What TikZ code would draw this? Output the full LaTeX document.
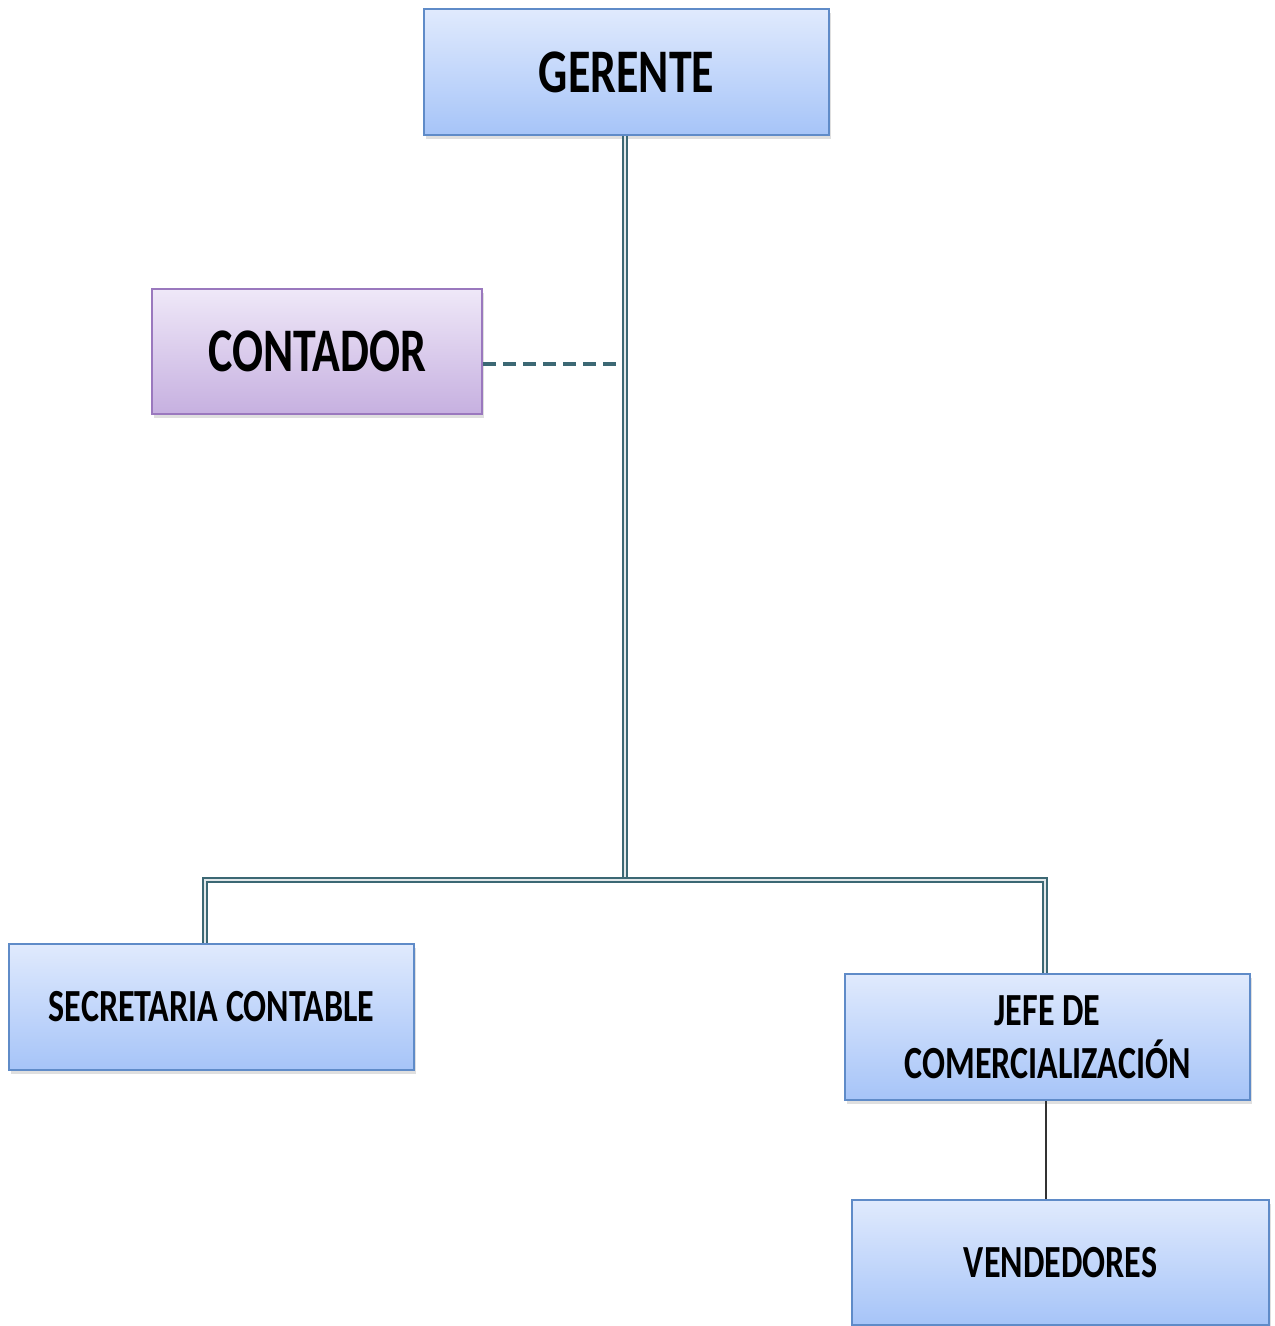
\documentclass[tikz,border=0pt]{standalone}
\usepackage{fontspec}
\setmainfont{Carlito}[FakeStretch=0.74]
\usetikzlibrary{shadows}
\definecolor{boxtop}{HTML}{E0EAFD}
\definecolor{boxbot}{HTML}{A6C4F8}
\definecolor{boxline}{HTML}{5F8BC8}
\definecolor{ptop}{HTML}{EFE8F8}
\definecolor{pbot}{HTML}{C6B0E0}
\definecolor{pline}{HTML}{9A78BE}
\definecolor{teal}{HTML}{3C6874}
\tikzset{
  orgbox/.style={draw=boxline, line width=1pt, top color=boxtop, bottom color=boxbot,
    rectangle, inner sep=0pt, align=center, text=black,
    drop shadow={opacity=0.25, shadow xshift=1.2pt, shadow yshift=-1.8pt}},
  purplebox/.style={orgbox, draw=pline, top color=ptop, bottom color=pbot},
  bigtext/.style={font=\bfseries\fontsize{31}{36}\selectfont},
  smalltext/.style={font=\bfseries\fontsize{23}{26.5}\selectfont},
  dblline/.style={draw=teal, line width=0.8pt, double=white!85!teal, double distance=1.3pt},
  dashline/.style={draw=teal, line width=2pt, dash pattern=on 6.5pt off 3.5pt},
  plainline/.style={draw=black!80, line width=1pt}
}
\begin{document}
\begin{tikzpicture}[x=0.5pt,y=-0.5pt]
\useasboundingbox (0,0) rectangle (1274,1326);
\node[orgbox, bigtext, minimum width=202.5pt, minimum height=63pt] (ger) at (626.5,72) {GERENTE};
\node[purplebox, bigtext, minimum width=165pt, minimum height=62.5pt] (con) at (317,351.5) {CONTADOR};
\node[orgbox, smalltext, minimum width=202.5pt, minimum height=63pt] (sec) at (211.5,1007) {SECRETARIA CONTABLE};
\node[orgbox, smalltext, minimum width=202.5pt, minimum height=63pt] (jef) at (1047.5,1037) {JEFE DE\\COMERCIALIZACIÓN};
\node[orgbox, smalltext, minimum width=208.5pt, minimum height=62.5pt] (ven) at (1060.5,1262.5) {VENDEDORES};
\coordinate (hub) at (625,880);
\coordinate (dj) at (622,363.5);
\draw[dblline] (ger.south -| hub) -- (hub);
\draw[dblline] (hub) -| (sec.north -| 205,0);
\draw[dblline] (hub) -| (jef.north -| 1045,0);
\draw[dashline] (con.east |- dj) -- (dj);
\draw[plainline] (jef.south -| 1046,0) -- (ven.north -| 1046,0);
\end{tikzpicture}
\end{document}
